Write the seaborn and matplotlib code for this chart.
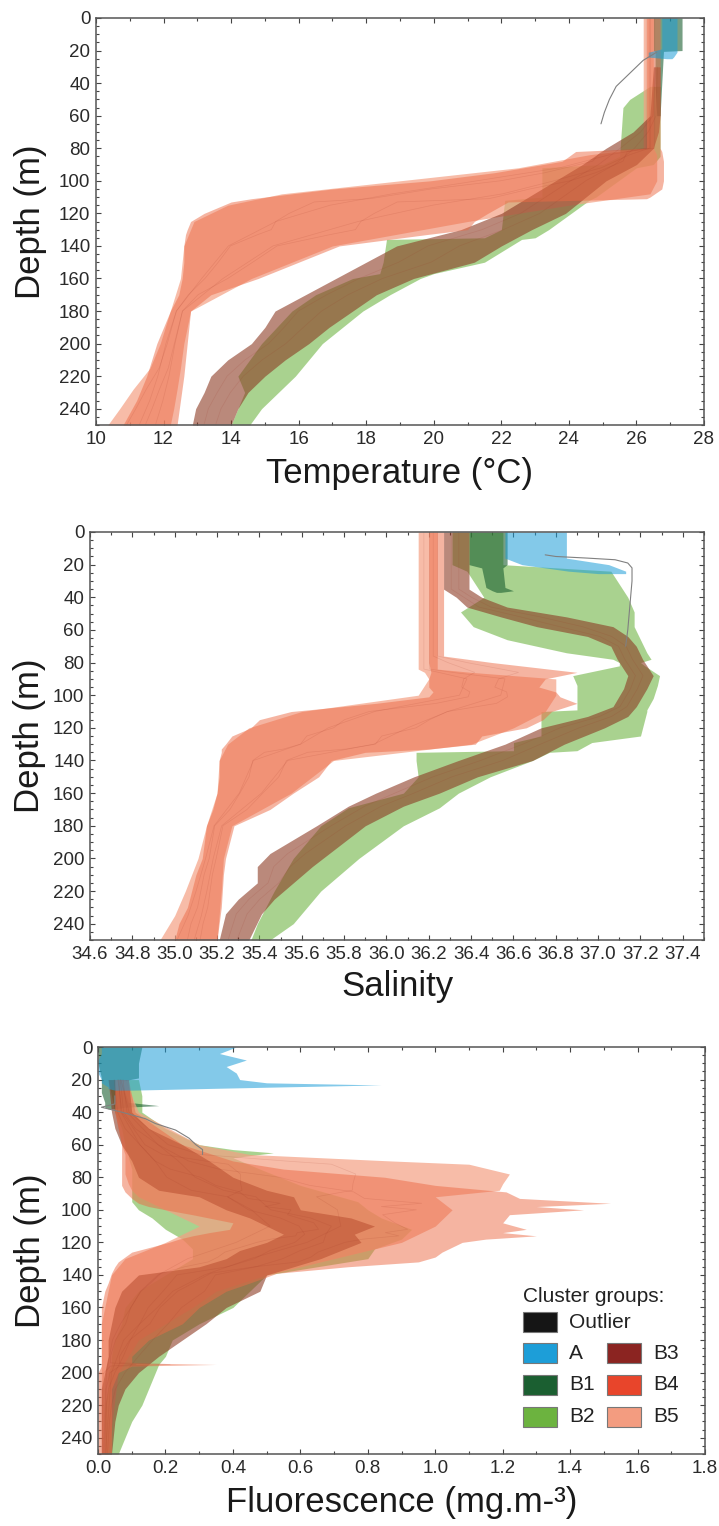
import matplotlib
matplotlib.use("Agg")
import matplotlib.pyplot as plt
import matplotlib.ticker as mticker
from matplotlib import font_manager
from matplotlib.patches import Rectangle
import numpy as np
import seaborn as sns

# ---------------- data ----------------
# Temperature (deg C) envelopes per cluster group: depth, lower, upper
t_A_d = [0, 19, 21, 24, 25]
t_A_lo = [26.75, 26.75, 26.35, 26.35, 26.9]
t_A_hi = [27.2, 27.2, 27.2, 27.1, 27.05]
t_B1_d = [0, 20, 20.5, 40, 60]
t_B1_lo = [26.5, 26.5, 26.55, 26.55, 26.6]
t_B1_hi = [27.35, 27.35, 26.8, 26.75, 26.7]
t_B2_d = [42, 50, 55, 85, 90, 92, 110, 112, 130, 135, 136, 150, 157, 160, 170, 180, 200, 220, 230, 240, 250]
t_B2_lo = [26.4, 25.8, 25.6, 25.5, 25.0, 23.2, 23.2, 22.1, 22.0, 21.5, 18.6, 18.5, 18.4, 17.6, 16.5, 15.8, 14.9, 14.2, 14.4, 14.2, 14.0]
t_B2_hi = [26.7, 26.7, 26.7, 26.7, 26.5, 26.0, 24.8, 24.6, 23.4, 23.0, 22.6, 21.5, 20.0, 19.6, 18.7, 17.9, 16.7, 15.9, 15.4, 14.9, 14.55]
t_B3_d = [30, 60, 70, 80, 90, 100, 110, 120, 130, 140, 150, 160, 170, 180, 190, 200, 210, 220, 230, 240, 250]
t_B3_lo = [26.5, 26.4, 25.9, 25.1, 24.4, 23.6, 22.8, 22.0, 20.8, 18.9, 18.0, 17.1, 16.2, 15.3, 15.0, 14.6, 13.9, 13.4, 13.2, 12.95, 12.85]
t_B3_hi = [26.7, 26.7, 26.65, 26.5, 26.0, 25.1, 24.5, 23.9, 22.9, 22.0, 21.2, 19.4, 18.3, 17.6, 16.9, 16.3, 15.6, 15.0, 14.5, 14.2, 14.0]
t_B4_d = [0, 80, 82, 88, 95, 100, 105, 110, 111, 113, 120, 125, 130, 133, 140, 150, 160, 170, 180, 200, 220, 235, 250]
t_B4_lo = [26.3, 26.3, 24.2, 23.8, 21.8, 19.9, 17.0, 15.0, 14.6, 14.0, 13.2, 12.8, 12.7, 12.65, 12.6, 12.6, 12.55, 12.45, 12.2, 11.8, 11.5, 11.2, 10.8]
t_B4_hi = [26.7, 26.7, 26.75, 26.8, 26.8, 26.8, 26.75, 26.4, 26.3, 22.2, 21.6, 21.2, 21.0, 19.8, 17.2, 16.0, 14.8, 13.4, 12.8, 12.7, 12.6, 12.5, 12.4]
t_B5_d = [0, 80, 84, 92, 100, 108, 115, 125, 140, 160, 180, 200, 215, 228, 240, 250]
t_B5_lo = [26.2, 26.2, 24.6, 22.5, 19.0, 15.5, 13.9, 12.9, 12.6, 12.5, 12.2, 11.9, 11.6, 11.1, 10.7, 10.35]
t_B5_hi = [26.5, 26.5, 26.6, 26.6, 26.6, 26.4, 24.0, 21.0, 17.0, 14.6, 12.8, 12.6, 12.5, 12.4, 12.3, 12.2]
t_out_d = [21, 26, 33, 42, 50, 58, 65]
t_out_v = [26.6, 26.2, 25.85, 25.4, 25.2, 25.05, 24.95]

# Salinity envelopes
s_A_d = [0, 16, 20, 24, 25.5]
s_A_lo = [36.56, 36.56, 36.64, 36.86, 37.0]
s_A_hi = [36.85, 36.85, 37.05, 37.13, 37.13]
s_B1_d = [0, 20, 22, 34, 36, 37]
s_B1_lo = [36.39, 36.39, 36.45, 36.47, 36.5, 36.52]
s_B1_hi = [36.57, 36.57, 36.55, 36.56, 36.6, 36.54]
s_B2_d = [0, 20, 24, 32, 40, 49, 58, 66, 74, 78, 80, 82, 88, 94, 102, 109, 110, 125, 129, 134, 135, 140, 150, 160, 169, 180, 200, 220, 240, 250]
s_B2_lo = [36.31, 36.31, 36.38, 36.42, 36.46, 36.35, 36.41, 36.57, 36.85, 37.07, 37.1, 37.1, 36.88, 36.9, 36.9, 36.9, 36.73, 36.73, 36.6, 36.6, 36.14, 36.14, 36.15, 36.08, 35.82, 35.69, 35.56, 35.47, 35.39, 35.36]
s_B2_hi = [36.55, 36.55, 37.06, 37.1, 37.14, 37.17, 37.17, 37.2, 37.23, 37.25, 37.2, 37.22, 37.29, 37.28, 37.26, 37.23, 37.23, 37.2, 36.97, 36.9, 36.77, 36.69, 36.49, 36.34, 36.25, 36.08, 35.87, 35.69, 35.56, 35.45]
s_B3_d = [0, 35, 40, 46, 52, 58, 64, 70, 78, 88, 96, 107, 113, 120, 130, 140, 150, 160, 168, 180, 197, 205, 215, 225, 234, 250]
s_B3_lo = [36.27, 36.27, 36.33, 36.38, 36.54, 36.71, 36.95, 37.06, 37.09, 37.14, 37.12, 37.07, 36.95, 36.73, 36.56, 36.34, 36.13, 35.95, 35.82, 35.67, 35.45, 35.39, 35.39, 35.3, 35.24, 35.21]
s_B3_hi = [36.39, 36.39, 36.45, 36.57, 36.85, 37.07, 37.14, 37.18, 37.21, 37.26, 37.23, 37.18, 37.14, 37.03, 36.84, 36.69, 36.43, 36.25, 36.08, 35.9, 35.73, 35.65, 35.56, 35.47, 35.41, 35.35]
s_B4_d = [0, 76, 80, 86, 90, 95, 98, 101, 105, 110, 115, 120, 125, 130, 133, 135, 140, 150, 160, 170, 180, 200, 210, 230, 240, 250]
s_B4_lo = [36.2, 36.2, 36.2, 36.21, 36.2, 36.2, 36.22, 36.2, 35.95, 35.55, 35.4, 35.36, 35.27, 35.24, 35.22, 35.22, 35.21, 35.21, 35.2, 35.18, 35.15, 35.13, 35.1, 35.06, 35.02, 35.0]
s_B4_hi = [36.27, 36.27, 36.5, 36.9, 36.75, 36.72, 36.8, 36.82, 36.9, 36.78, 36.74, 36.66, 36.45, 36.42, 36.2, 35.9, 35.74, 35.68, 35.56, 35.45, 35.28, 35.24, 35.23, 35.22, 35.21, 35.2]
s_B5_d = [0, 84, 86, 90, 100, 110, 120, 130, 140, 160, 180, 200, 220, 235, 250]
s_B5_lo = [36.15, 36.15, 36.18, 36.2, 36.15, 35.6, 35.35, 35.25, 35.21, 35.2, 35.15, 35.11, 35.05, 35.0, 34.93]
s_B5_hi = [36.24, 36.24, 36.4, 36.8, 36.8, 36.75, 36.6, 36.4, 35.75, 35.55, 35.27, 35.23, 35.22, 35.21, 35.2]
s_out_d = [14, 15, 16, 17, 19, 22, 30, 45, 60, 70]
s_out_v = [36.75, 36.8, 36.95, 37.08, 37.14, 37.16, 37.16, 37.15, 37.14, 37.13]

# Fluorescence (mg m-3) envelopes
f_A_d = [0, 4, 8, 12, 16, 20, 22, 23.3, 24.5, 25.5, 26.5]
f_A_lo = [0.01, 0.01, 0.0, 0.0, 0.0, 0.01, 0.01, 0.02, 0.03, 0.03, 0.05]
f_A_hi = [0.41, 0.36, 0.44, 0.38, 0.41, 0.42, 0.5, 0.84, 0.55, 0.32, 0.1]
f_B1_d = [0, 10, 19, 21, 28, 34, 36, 37, 38]
f_B1_lo = [0.0, 0.0, 0.01, 0.01, 0.01, 0.02, 0.02, 0.02, 0.03]
f_B1_hi = [0.13, 0.12, 0.12, 0.07, 0.08, 0.09, 0.18, 0.08, 0.05]
f_B2_d = [20, 30, 40, 50, 60, 63, 65, 68, 75, 85, 95, 100, 105, 112, 118, 124, 130, 135, 140, 150, 160, 170, 180, 190, 195, 200, 210, 220, 230, 240, 250]
f_B2_lo = [0.03, 0.04, 0.05, 0.07, 0.08, 0.08, 0.09, 0.09, 0.1, 0.1, 0.1, 0.12, 0.16, 0.2, 0.25, 0.28, 0.28, 0.24, 0.2, 0.12, 0.08, 0.07, 0.05, 0.04, 0.04, 0.03, 0.03, 0.02, 0.02, 0.02, 0.02]
f_B2_hi = [0.12, 0.13, 0.13, 0.2, 0.3, 0.4, 0.52, 0.4, 0.48, 0.6, 0.77, 0.8, 0.84, 0.93, 0.9, 0.82, 0.8, 0.65, 0.5, 0.45, 0.4, 0.3, 0.22, 0.2, 0.18, 0.17, 0.15, 0.13, 0.1, 0.08, 0.06]
f_B3_d = [20, 40, 50, 60, 70, 80, 88, 92, 100, 105, 110, 115, 120, 125, 130, 135, 140, 150, 160, 170, 180, 190, 200, 210, 220, 230, 250]
f_B3_lo = [0.03, 0.04, 0.05, 0.07, 0.1, 0.12, 0.18, 0.3, 0.38, 0.45, 0.5, 0.55, 0.5, 0.42, 0.38, 0.3, 0.12, 0.07, 0.05, 0.04, 0.03, 0.03, 0.02, 0.01, 0.01, 0.01, 0.01]
f_B3_hi = [0.09, 0.1, 0.15, 0.25, 0.33, 0.4, 0.5, 0.58, 0.6, 0.75, 0.82, 0.76, 0.78, 0.72, 0.66, 0.58, 0.5, 0.48, 0.38, 0.32, 0.25, 0.18, 0.12, 0.08, 0.06, 0.05, 0.04]
f_B4_d = [20, 40, 50, 60, 70, 75, 80, 85, 89, 93, 96, 98, 100, 103, 108, 112, 114, 116, 118, 120, 126, 129, 132, 135, 139, 145, 150, 160, 170, 180, 190, 194, 195, 196, 200, 210, 250]
f_B4_lo = [0.05, 0.05, 0.06, 0.07, 0.07, 0.07, 0.07, 0.07, 0.08, 0.1, 0.12, 0.15, 0.2, 0.28, 0.4, 0.39, 0.33, 0.28, 0.24, 0.21, 0.1, 0.08, 0.06, 0.05, 0.04, 0.03, 0.02, 0.01, 0.01, 0.01, 0.01, 0.01, 0.01, 0.01, 0.0, 0.0, 0.0]
f_B4_hi = [0.09, 0.11, 0.18, 0.25, 0.4, 0.55, 0.85, 1.0, 1.21, 1.25, 1.52, 1.3, 1.44, 1.22, 1.2, 1.27, 1.2, 1.3, 1.15, 1.08, 1.02, 1.0, 0.95, 0.74, 0.53, 0.45, 0.38, 0.3, 0.25, 0.15, 0.1, 0.1, 0.35, 0.1, 0.06, 0.04, 0.04]
f_B5_d = [20, 40, 60, 66, 70, 72, 78, 84, 88, 92, 100, 110, 120, 130, 140, 150, 160, 170, 180, 200, 250]
f_B5_lo = [0.05, 0.05, 0.07, 0.08, 0.08, 0.08, 0.08, 0.09, 0.1, 0.12, 0.2, 0.3, 0.2, 0.08, 0.04, 0.03, 0.02, 0.01, 0.01, 0.01, 0.01]
f_B5_hi = [0.08, 0.12, 0.3, 0.45, 0.87, 1.1, 1.22, 1.2, 1.19, 1.0, 1.05, 1.0, 0.9, 0.7, 0.5, 0.35, 0.28, 0.2, 0.12, 0.06, 0.03]
f_out_d = [30, 35, 37, 40, 44, 47, 51, 56, 60, 63, 66]
f_out_v = [0.05, 0.05, 0.01, 0.07, 0.14, 0.17, 0.23, 0.27, 0.29, 0.31, 0.31]

groups = ['Outlier', 'A', 'B1', 'B2', 'B3', 'B4', 'B5']
# solid colours used by the legend boxes
colors = {'Outlier': '#151515', 'A': '#1d9ed8', 'B1': '#1b5f31', 'B2': '#6cb33f',
          'B3': '#8b2421', 'B4': '#e8452b', 'B5': '#f39c80'}
# translucent fills used for the envelopes
fills = {'A': ('#1d9ed8', 0.55), 'B1': ('#1b5f31', 0.6), 'B2': ('#6cb33f', 0.58),
         'B3': ('#8c3a24', 0.6), 'B4': ('#ec6a45', 0.5), 'B5': ('#f4a083', 0.7)}

# ---------------- style ----------------
sns.set_style('ticks')
names = {f.name for f in font_manager.fontManager.ttflist}
narrow = 'Liberation Sans Narrow' if 'Liberation Sans Narrow' in names else 'Liberation Sans'
plt.rcParams['font.family'] = ['Liberation Sans', 'DejaVu Sans']

W, H = 719, 1526
fig = plt.figure(figsize=(W / 100, H / 100), dpi=100)


def px_axes(left, right, top, bottom):
    return fig.add_axes([left / W, 1 - bottom / H, (right - left) / W, (bottom - top) / H])


def draw_band(ax, d, lo, hi, g):
    c, a = fills[g]
    ax.fill_betweenx(d, lo, hi, color=c, alpha=a, lw=0)
    if g in ('B4', 'B5', 'B3'):
        lo_a, hi_a = np.asarray(lo), np.asarray(hi)
        for f in (0.3, 0.6):
            sns.lineplot(x=lo_a + f * (hi_a - lo_a), y=d, orient='y', sort=False,
                         estimator=None, color='#9c3020', alpha=0.14, lw=0.5, ax=ax)


def style_axes(ax, xlim, xmaj, xmin, xfmt, xlabel, xlab_x, ylab_x):
    ax.set_xlim(*xlim)
    ax.set_ylim(250, 0)
    ax.xaxis.set_major_locator(mticker.MultipleLocator(xmaj))
    ax.xaxis.set_minor_locator(mticker.MultipleLocator(xmin))
    ax.xaxis.set_major_formatter(mticker.FormatStrFormatter(xfmt))
    ax.yaxis.set_major_locator(mticker.MultipleLocator(20))
    ax.yaxis.set_minor_locator(mticker.MultipleLocator(5))
    ax.tick_params(which='both', direction='in', top=True, right=True,
                   color='#444444', width=0.8, labelcolor='#2a2a2a')
    ax.tick_params(which='major', length=3.5, pad=4, labelsize=13.5)
    ax.tick_params(which='minor', length=2)
    for lab in ax.get_xticklabels() + ax.get_yticklabels():
        lab.set_fontfamily([narrow, 'DejaVu Sans'])
    for sp in ax.spines.values():
        sp.set_color('#555555')
        sp.set_linewidth(1.1)
    ax.set_xlabel(xlabel, fontsize=25, color='#1a1a1a')
    ax.set_ylabel('Depth (m)', fontsize=25, color='#1a1a1a')
    ax.xaxis.label.set_va('center')
    ax.yaxis.label.set_va('center')
    ax.xaxis.set_label_coords(0.5, xlab_x)
    ax.yaxis.set_label_coords(ylab_x, 0.5)


def panel(ax, bands, out_d, out_v):
    # draw order: greens first, then B3 under the orange groups, blue on top
    for g in ('B2', 'B1', 'B5', 'B3', 'B4', 'A'):
        d, lo, hi = bands[g]
        draw_band(ax, d, lo, hi, g)
    sns.lineplot(x=out_v, y=out_d, orient='y', sort=False, estimator=None,
                 color='#808080', lw=0.8, ax=ax)


# Temperature
ax1 = px_axes(96, 704, 18, 425)
panel(ax1, {'A': (t_A_d, t_A_lo, t_A_hi), 'B1': (t_B1_d, t_B1_lo, t_B1_hi),
            'B2': (t_B2_d, t_B2_lo, t_B2_hi), 'B3': (t_B3_d, t_B3_lo, t_B3_hi),
            'B4': (t_B4_d, t_B4_lo, t_B4_hi), 'B5': (t_B5_d, t_B5_lo, t_B5_hi)},
      t_out_d, t_out_v)
style_axes(ax1, (10, 28), 2, 1, '%d', 'Temperature (°C)', -0.118, -0.108)

# Salinity
ax2 = px_axes(90, 704, 532, 940)
panel(ax2, {'A': (s_A_d, s_A_lo, s_A_hi), 'B1': (s_B1_d, s_B1_lo, s_B1_hi),
            'B2': (s_B2_d, s_B2_lo, s_B2_hi), 'B3': (s_B3_d, s_B3_lo, s_B3_hi),
            'B4': (s_B4_d, s_B4_lo, s_B4_hi), 'B5': (s_B5_d, s_B5_lo, s_B5_hi)},
      s_out_d, s_out_v)
style_axes(ax2, (34.6, 37.5), 0.2, 0.1, '%.1f', 'Salinity', -0.115, -0.098)

# Fluorescence
ax3 = px_axes(98, 705, 1047, 1454)
panel(ax3, {'A': (f_A_d, f_A_lo, f_A_hi), 'B1': (f_B1_d, f_B1_lo, f_B1_hi),
            'B2': (f_B2_d, f_B2_lo, f_B2_hi), 'B3': (f_B3_d, f_B3_lo, f_B3_hi),
            'B4': (f_B4_d, f_B4_lo, f_B4_hi), 'B5': (f_B5_d, f_B5_lo, f_B5_hi)},
      f_out_d, f_out_v)
style_axes(ax3, (0, 1.8), 0.2, 0.1, '%.1f', 'Fluorescence (mg.m-³)', -0.12, -0.112)

# legend (cluster groups)
ax3.text(0.700, 0.386, 'Cluster groups:', transform=ax3.transAxes, fontsize=15,
         family=[narrow, 'DejaVu Sans'], color='#222222', va='center', ha='left')
leg_slots = [('Outlier', 0.700, 0.324), ('A', 0.700, 0.248), ('B1', 0.700, 0.170),
             ('B2', 0.700, 0.091), ('B3', 0.8386, 0.248), ('B4', 0.8386, 0.170),
             ('B5', 0.8386, 0.091)]
bw, bh = 34 / 607, 20 / 407
for g, x0, yc in leg_slots:
    ax3.add_patch(Rectangle((x0, yc - bh / 2), bw, bh, transform=ax3.transAxes,
                            facecolor=colors[g], edgecolor='#777777', lw=0.8,
                            clip_on=False, zorder=5))
    ax3.text(x0 + bw + 12 / 607, yc, g, transform=ax3.transAxes, fontsize=15,
             family=[narrow, 'DejaVu Sans'], color='#222222', va='center', ha='left')

fig.savefig('out.png', dpi=100)
